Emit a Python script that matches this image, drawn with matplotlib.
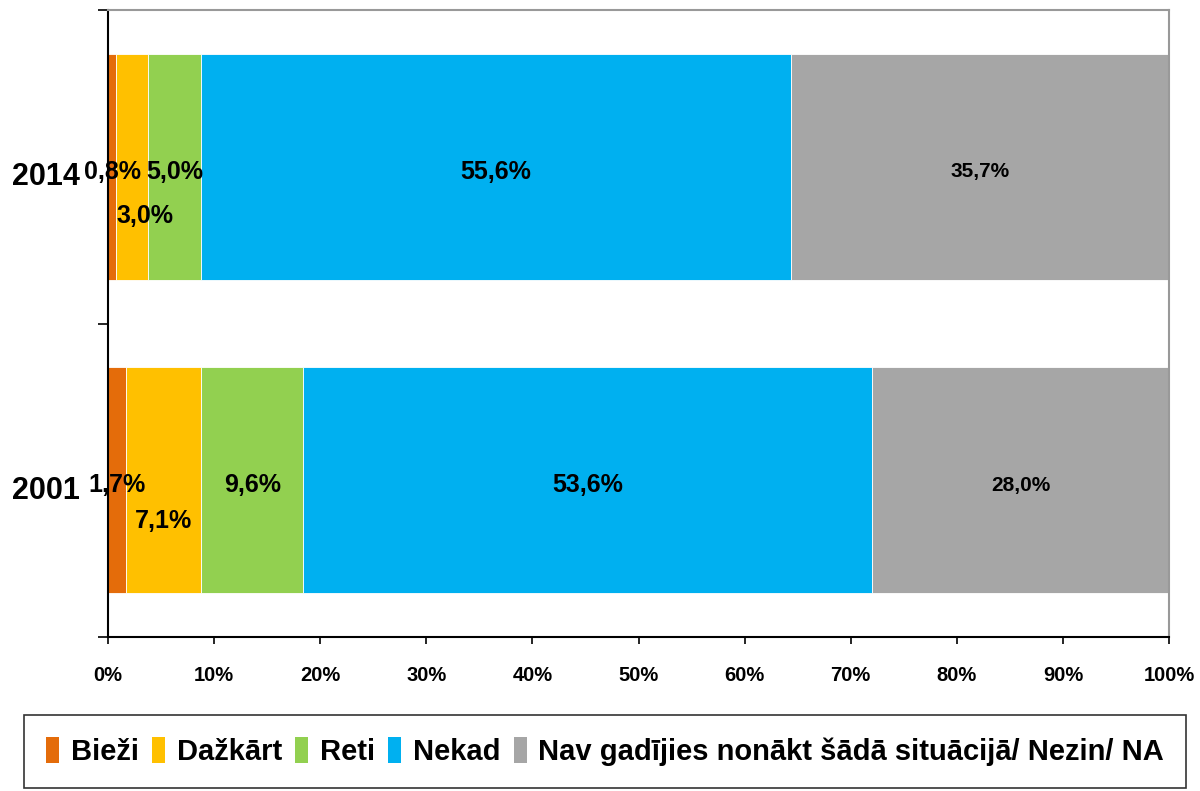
import matplotlib
matplotlib.use("Agg")
import matplotlib.pyplot as plt
import matplotlib.ticker as ticker
import matplotlib.transforms as mtransforms
import numpy as np

# %%
years = ["2001", "2014"]
categories = ["Bieži", "Dažkārt", "Reti", "Nekad",
              "Nav gadījies nonākt šādā situācijā/ Nezin/ NA"]
values = {
    "Bieži": [1.7, 0.8],
    "Dažkārt": [7.1, 3.0],
    "Reti": [9.6, 5.0],
    "Nekad": [53.6, 55.6],
    "Nav gadījies nonākt šādā situācijā/ Nezin/ NA": [28.0, 35.7],
}
colors = ["#E46C0A", "#FFC000", "#92D050", "#00B0F0", "#A6A6A6"]

# %%
plt.rcParams['font.family'] = ['Liberation Sans', 'DejaVu Sans']
plt.rcParams['font.weight'] = 'bold'

fig = plt.figure(figsize=(12, 7.91), dpi=100)
ax = fig.add_axes([108 / 1200, 1 - 637 / 791, (1169 - 108) / 1200, (637 - 10) / 791])

y = np.arange(len(years))
totals = np.sum([values[c] for c in categories], axis=0)
left = np.zeros(len(years))

# label offsets (points) for the small segments, as in the original
offsets = {("Dažkārt", 1): (9, -35.5), ("Dažkārt", 0): (0, -29.5)}

for cat, color in zip(categories, colors):
    raw = np.array(values[cat])
    share = raw / totals * 100
    ax.barh(y, share, left=left, height=0.72, color=color,
            edgecolor="white", linewidth=0.6, label=cat)
    for i, (v, w, l) in enumerate(zip(raw, share, left)):
        dx, dy = offsets.get((cat, i), (0, -3.5))
        size = 15 if cat == categories[-1] else 18
        ax.annotate(f"{v:.1f}%".replace(".", ","), (l + w / 2, y[i]),
                    xytext=(dx, dy), textcoords="offset points",
                    ha="center", va="center", fontsize=size,
                    fontweight="bold", color="black")
    left += share

ax.set_xlim(0, 100)
ax.set_ylim(-0.5, 1.5)

ax.xaxis.set_major_locator(ticker.MultipleLocator(10))
ax.xaxis.set_major_formatter(ticker.FuncFormatter(lambda x, _: f"{x:.0f}%"))
ax.tick_params(axis="x", length=5, width=1.2, pad=16, labelsize=14.5)

ax.set_yticks(y)
ax.set_yticklabels(years)
ax.set_yticks([-0.5, 0.5, 1.5], minor=True)
ax.tick_params(axis="y", which="major", length=0, pad=20, labelsize=22)
ax.tick_params(axis="y", which="minor", length=7, width=1.2)
# year labels sit a little under the bar centre
shift = mtransforms.ScaledTranslation(0, -5 / 72, fig.dpi_scale_trans)
for lbl in ax.get_yticklabels():
    lbl.set_transform(lbl.get_transform() + shift)

ax.spines["left"].set_linewidth(1.5)
ax.spines["bottom"].set_linewidth(1.5)
ax.spines["top"].set_color("#999999")
ax.spines["right"].set_color("#999999")
ax.spines["top"].set_linewidth(1.5)
ax.spines["right"].set_linewidth(1.5)

leg = fig.legend(loc="center", bbox_to_anchor=(24 / 1200, 1 - 788 / 791, (1186 - 24) / 1200, 73 / 791),
                 ncol=5, frameon=True, fancybox=False, shadow=False,
                 handlelength=0.45, handleheight=1.0, handletextpad=0.4,
                 columnspacing=1.1, borderpad=0.75, borderaxespad=0, mode="expand",
                 prop={"family": ['Liberation Sans'], "weight": "bold", "size": 21})
leg.get_frame().set_edgecolor("black")
leg.get_frame().set_linewidth(1.2)
for h in leg.legend_handles:
    h.set_edgecolor("none")

fig.savefig("out.png", dpi=100)
